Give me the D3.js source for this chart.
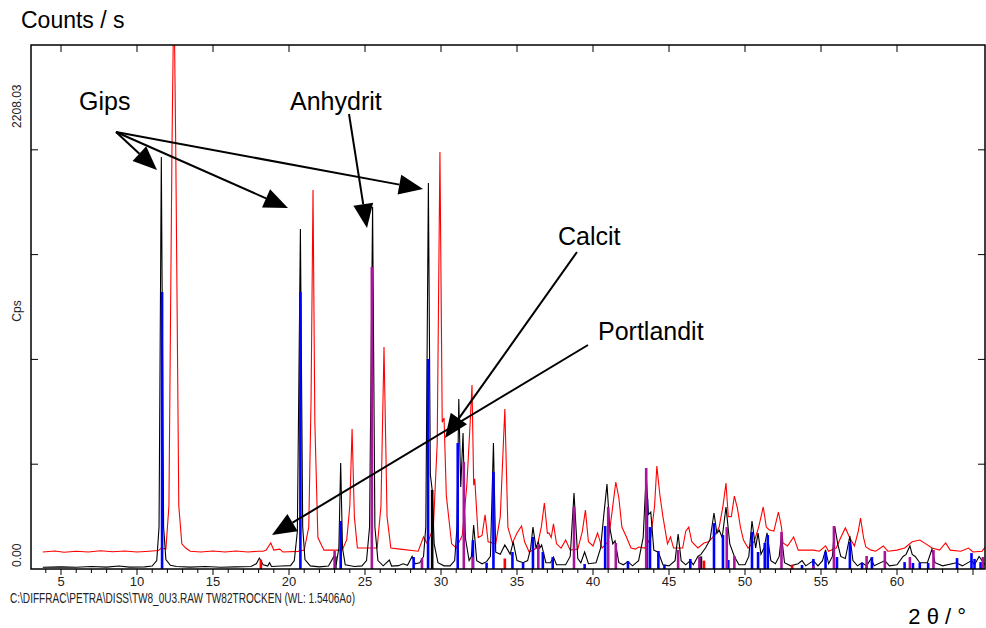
<!DOCTYPE html>
<html>
<head>
<meta charset="utf-8">
<script src="https://cdn.jsdelivr.net/npm/d3@7"></script>
<style>
  body { margin: 0; background: #fff; }
  svg { display: block; font-family: "Liberation Sans", Arial, sans-serif; }
  .narrow { font-family: "Liberation Sans Narrow", "Arial Narrow", "Liberation Sans", sans-serif; }
</style>
</head>
<body>
<svg id="chart" width="986" height="628"></svg>
<script>
// scan TW8_0U3 (black), counts per second vs 2theta
var blackScan = [
  [3.8,8],[5,10],[6,8],[7,12],[8,9],[8.8,14],[9.5,9],[10.5,10],[11.0,14],[11.3,40],[11.45,200],[11.6,1966],
  [11.75,200],[11.9,45],[12.2,18],[12.6,12],[13.5,9],[14.5,12],[15.5,8],[16.5,10],[17.5,12],[17.85,25],[18.05,52],
  [18.3,20],[18.6,14],[18.72,30],[18.85,12],[19.5,14],[20.1,16],[20.35,40],[20.55,180],[20.75,1622],[20.9,200],
  [21.05,45],[21.4,15],[22.0,10],[22.6,14],[22.95,60],[23.1,20],[23.28,100],[23.4,506],[23.52,100],[23.7,20],
  [24.3,12],[24.8,15],[25.1,40],[25.3,200],[25.5,1727],[25.65,200],[25.85,40],[26.2,15],[26.6,43],[26.75,14],
  [27.2,16],[27.5,25],[27.8,18],[28.1,60],[28.3,25],[28.6,30],[28.85,60],[29.0,200],[29.17,1842],[29.3,450],
  [29.42,377],[29.55,120],[29.8,30],[30.2,15],[30.6,15],[30.9,40],[31.05,200],[31.17,811],[31.3,391],[31.45,649],
  [31.6,150],[31.85,40],[32.0,60],[32.15,210],[32.35,40],[32.7,25],[33.0,35],[33.25,60],[33.45,601],[33.6,80],
  [33.9,70],[34.2,115],[34.4,90],[34.55,70],[34.75,129],[35.0,40],[35.4,30],[35.7,40],[35.9,100],[36.05,200],
  [36.25,100],[36.4,129],[36.5,100],[36.62,115],[36.9,30],[37.2,30],[37.4,57],[37.6,20],[38.2,20],[38.5,60],
  [38.75,362],[39.0,50],[39.2,30],[39.45,81],[39.7,25],[40.2,30],[40.5,100],[40.7,250],[40.92,405],[41.1,200],
  [41.3,120],[41.45,134],[41.7,30],[42.0,20],[42.3,35],[42.6,15],[43.0,40],[43.3,150],[43.5,448],[43.65,260],
  [43.8,272],[44.0,90],[44.3,80],[44.6,20],[45.0,15],[45.4,40],[45.6,167],[45.8,40],[46.1,20],[46.4,40],
  [46.6,20],[46.9,60],[47.1,70],[47.4,100],[47.7,140],[47.96,267],[48.15,170],[48.3,186],[48.5,150],[48.75,296],
  [49.0,120],[49.3,60],[49.6,20],[50.0,20],[50.25,60],[50.46,229],[50.7,100],[50.86,172],[51.05,70],[51.25,100],
  [51.45,172],[51.7,40],[52.0,25],[52.25,60],[52.4,162],[52.6,30],[53.0,15],[53.5,25],[53.75,40],[54.0,15],
  [54.5,40],[54.8,15],[55.1,40],[55.3,91],[55.5,25],[55.75,60],[55.9,205],[56.1,120],[56.3,60],[56.6,50],
  [56.9,157],[57.1,40],[57.4,15],[57.7,30],[58.0,15],[58.3,50],[58.5,15],[59.2,40],[59.5,15],[60.0,20],
  [60.4,60],[60.6,70],[60.85,110],[61.0,70],[61.2,60],[61.5,30],[62.0,30],[62.3,95],[62.5,30],[63.0,15],
  [63.9,30],[64.3,15],[64.9,40],[65.1,20],[65.4,60],[65.8,20]
]

// scan TW82TROCKEN (red), drawn with its offset
var redScan = [
  [3.8,81],[4.6,86],[5.2,80],[6.0,85],[6.8,81],[7.6,87],[8.4,82],[9.2,86],[10.0,81],[10.8,85],[11.4,88],
  [11.6,100],[11.9,95],[12.1,300],[12.3,2000],
  [12.43,2800],[12.55,2000],[12.75,300],[12.95,120],[13.2,100],[13.5,85],[14.2,81],[15,86],[15.8,81],[16.5,86],
  [17.3,81],[18.0,85],[18.3,85],[18.5,90],
  [18.8,124],[19.0,90],[19.4,95],[19.6,81],[20.6,84],[21.0,90],[21.3,200],[21.45,800],[21.58,1808],[21.7,700],
  [21.9,150],[22.3,90],[23.5,90],[23.8,140],[24.0,300],[24.15,668],[24.3,250],[24.5,100],[25.8,100],[26.05,300],
  [26.25,1059],[26.45,250],[26.7,100],[27.3,95],[28.5,85],[28.85,153],[29.1,120],[29.5,200],[29.75,600],
  [29.93,1990],[30.08,700],[30.2,720],[30.35,350],[30.7,120],[31.0,100],[31.4,160],[31.7,400],[31.92,700],
  [32.04,878],[32.15,400],[32.22,430],[32.45,150],[32.7,160],[32.9,258],[33.1,130],[33.6,120],[33.9,250],
  [34.2,763],[34.4,200],[34.7,124],[35.0,172],[35.3,205],[35.5,130],[35.8,81],[36.3,100],[36.6,200],[36.8,315],
  [37.0,170],[37.1,172],[37.25,150],[37.4,215],[37.6,120],[37.9,100],[38.2,138],[38.5,90],[39.0,95],[39.3,180],
  [39.5,281],[39.7,130],[40.0,110],[40.3,172],[40.6,100],[41.0,130],[41.3,300],[41.5,415],[41.7,340],[41.9,200],
  [42.2,153],[42.5,100],[42.8,95],[43.0,105],[43.4,100],[43.8,150],[44.05,300],[44.2,491],[44.4,353],[44.6,250],
  [44.9,120],[45.1,153],[45.3,100],[45.9,100],[46.1,180],[46.3,200],[46.5,130],[46.9,100],[47.3,124],[47.6,130],
  [48.0,160],[48.3,200],[48.55,300],[48.75,410],[48.9,250],[49.1,250],[49.3,348],[49.5,290],[49.7,200],
  [49.9,138],[50.2,100],[50.6,130],[50.9,200],[51.2,296],[51.4,200],[51.6,186],[51.9,181],[52.2,272],[52.4,200],
  [52.5,124],[52.8,110],[53.2,153],[53.5,90],[54.0,90],[54.5,90],[54.9,85],[55.3,110],[55.5,85],[56.0,100],
  [56.3,150],[56.6,196],[56.9,148],[57.2,110],[57.45,180],[57.6,243],[57.8,150],[57.95,105],[58.3,90],[58.6,85],
  [59.1,110],[59.4,85],[60.0,90],[60.5,100],[61.0,130],[61.5,138],[61.9,120],[62.3,100],[62.8,90],[63.2,124],
  [63.5,90],[64.2,85],[64.7,100],[65.0,81],[65.6,85],[65.8,105]
]

// reference patterns (sticks): [2theta, height]
var blueSticks = [
  [11.65,1322],[20.75,1322],[23.4,229],[28.2,57],[29.15,1002],[31.1,601],[32.1,138],[33.0,30],[33.45,463],
  [34.7,81],[35.4,30],[36.05,153],[36.7,81],[37.35,57],[39.45,24],[40.8,205],[42.3,38],[43.55,334],[43.75,200],
  [44.3,86],[44.7,20],[46.4,48],[47.96,219],[48.55,162],[48.9,43],[50.46,177],[50.86,81],[51.3,124],[51.5,162],
  [53.75,19],[54.5,48],[55.3,81],[56.05,57],[56.9,129],[57.7,29],[58.35,57],[60.5,33],[61.05,29],[61.5,29],
  [62.05,29],[63.95,52],[64.9,76],[65.1,48],[65.5,33]
]
var magentaSticks = [
  [23.0,86],[25.45,1441],[28.75,52],[31.5,511],[32.1,57],[36.4,119],[38.75,296],[41.0,296],[41.5,124],
  [43.5,482],[45.6,91],[47.0,57],[48.8,200],[49.3,62],[52.4,177],[54.5,15],[55.85,205],[58.0,62],[59.2,86],
  [60.85,57],[62.4,91],[65.65,57]
]
var redSticks = [[18.15,45],[34.2,50],[47.3,40],[53.1,20],[58.0,20]]
var blackSticks = [[23.05,60],[29.42,377],[47.1,60]]

var xTicks = [5, 10, 15, 20, 25, 30, 35, 40, 45, 50, 55, 60]
var yTicks = [0, 500, 1000, 1500, 2000, 2500]
var yLabels = [[0, "0.00"], [2208.03, "2208.03"]]

var annotations = [
  {text: "Gips", x: 79, y: 110, from: [116, 132], to: [[157, 170], [288, 208], [423, 189]]},
  {text: "Anhydrit", x: 290, y: 110, from: [349, 114], to: [[367, 228]]},
  {text: "Calcit", x: 558, y: 245, from: [577, 252], to: [[445, 438]]},
  {text: "Portlandit", x: 598, y: 340, from: [588, 345], to: [[272, 535]]}
]

var svg = d3.select("#chart")
var plotLeft = 31, plotRight = 985, plotTop = 45, plotBottom = 569

var x = d3.scaleLinear()
  .domain([5 - 30 / 15.2, 5 + 925 / 15.2])
  .range([plotLeft, 986])
var y = d3.scaleLinear()
  .domain([0, 2500])
  .range([plotBottom, plotTop])

svg.append("clipPath").attr("id", "plotclip")
  .append("rect")
  .attr("x", plotLeft).attr("y", plotTop)
  .attr("width", plotRight - plotLeft).attr("height", plotBottom - plotTop)

var plot = svg.append("g").attr("clip-path", "url(#plotclip)")

var line = d3.line()
  .x(function(d){ return x(d[0]) })
  .y(function(d){ return y(d[1]) })

plot.append("path").datum(redScan)
  .attr("d", line).attr("fill", "none").attr("stroke", "#ff0000").attr("stroke-width", 1.1)

plot.append("path").datum(blackScan)
  .attr("d", line).attr("fill", "none").attr("stroke", "#000").attr("stroke-width", 1.1)

function drawSticks(data, colour){
  plot.append("g").selectAll("line")
    .data(data)
    .enter()
    .append("line")
    .attr("x1", function(d){ return x(d[0]) })
    .attr("x2", function(d){ return x(d[0]) })
    .attr("y1", y(0))
    .attr("y2", function(d){ return y(d[1]) })
    .attr("stroke", colour)
    .attr("stroke-width", 2.6)
}
drawSticks(blackSticks, "#000")
drawSticks(redSticks, "#ff0000")
drawSticks(blueSticks, "#0000ff")
drawSticks(magentaSticks, "#a8149a")

/* frame and ticks */
svg.append("rect")
  .attr("x", plotLeft).attr("y", plotTop)
  .attr("width", plotRight - plotLeft).attr("height", plotBottom - plotTop)
  .attr("fill", "none").attr("stroke", "#000").attr("stroke-width", 1.5)

var minorTicks = d3.range(4, 66)

svg.append("g").selectAll("line")
  .data(minorTicks)
  .enter().append("line")
  .attr("x1", function(d){ return x(d) }).attr("x2", function(d){ return x(d) })
  .attr("y1", plotBottom).attr("y2", function(d){ return d % 5 == 0 ? plotBottom + 6 : plotBottom + 4 })
  .attr("stroke", "#000").attr("stroke-width", 1)

svg.append("g").selectAll("line")
  .data(xTicks)
  .enter().append("line")
  .attr("x1", function(d){ return x(d) }).attr("x2", function(d){ return x(d) })
  .attr("y1", plotTop).attr("y2", plotTop + 7)
  .attr("stroke", "#000").attr("stroke-width", 1)

svg.append("g").selectAll("text")
  .data(xTicks)
  .enter().append("text")
  .attr("class", "narrow")
  .attr("x", function(d){ return x(d) })
  .attr("y", 586)
  .attr("text-anchor", "middle")
  .attr("font-size", 13)
  .attr("fill", "#222")
  .text(function(d){ return d })

svg.append("g").selectAll("line")
  .data(yTicks.slice(1, 5))
  .enter().append("line")
  .attr("x1", plotLeft).attr("x2", plotLeft + 7)
  .attr("y1", function(d){ return y(d) }).attr("y2", function(d){ return y(d) })
  .attr("stroke", "#000").attr("stroke-width", 1)

svg.append("g").selectAll("line")
  .data(yTicks.slice(1, 5))
  .enter().append("line")
  .attr("x1", plotRight - 7).attr("x2", plotRight)
  .attr("y1", function(d){ return y(d) }).attr("y2", function(d){ return y(d) })
  .attr("stroke", "#000").attr("stroke-width", 1)

svg.append("g").selectAll("text")
  .data(yLabels)
  .enter().append("text")
  .attr("class", "narrow")
  .attr("font-size", 12)
  .attr("fill", "#222")
  .attr("text-anchor", function(d){ return d[0] == 0 ? "start" : "middle" })
  .attr("transform", function(d){
    var yy = d[0] == 0 ? y(0) - 2 : y(d[0])
    return "translate(21," + yy + ") rotate(-90)"
  })
  .text(function(d){ return d[1] })

svg.append("text")
  .attr("class", "narrow")
  .attr("font-size", 12)
  .attr("fill", "#222")
  .attr("text-anchor", "middle")
  .attr("transform", "translate(21,311) rotate(-90)")
  .text("Cps")

/* titles */
svg.append("text")
  .attr("x", 21).attr("y", 28)
  .attr("font-size", 23)
  .text("Counts / s")

svg.append("text")
  .attr("x", 966).attr("y", 624)
  .attr("text-anchor", "end")
  .attr("font-size", 22)
  .text("2 θ / °")

svg.append("text")
  .attr("class", "narrow")
  .attr("x", 10).attr("y", 603)
  .attr("font-size", 14)
  .attr("fill", "#222")
  .attr("textLength", 345)
  .attr("lengthAdjust", "spacingAndGlyphs")
  .text("C:\\DIFFRAC\\PETRA\\DISS\\TW8_0U3.RAW TW82TROCKEN (WL: 1.5406Ao)")

/* annotations with arrows */
function arrow(g, from, to){
  var dx = to[0] - from[0], dy = to[1] - from[1]
  var len = Math.sqrt(dx*dx + dy*dy)
  var ux = dx/len, uy = dy/len
  var hl = 24, hw = 10
  var bx = to[0] - ux*hl, by = to[1] - uy*hl
  g.append("line")
    .attr("x1", from[0]).attr("y1", from[1])
    .attr("x2", bx).attr("y2", by)
    .attr("stroke", "#000").attr("stroke-width", 2)
  g.append("path")
    .attr("d", "M" + to[0] + "," + to[1] +
      "L" + (bx - uy*hw) + "," + (by + ux*hw) +
      "L" + (bx + uy*hw) + "," + (by - ux*hw) + "Z")
    .attr("fill", "#000")
}

var ann = svg.append("g")
annotations.forEach(function(a){
  ann.append("text")
    .attr("x", a.x).attr("y", a.y)
    .attr("font-size", 25)
    .text(a.text)
  a.to.forEach(function(t){ arrow(ann, a.from, t) })
})
</script>
</body>
</html>
